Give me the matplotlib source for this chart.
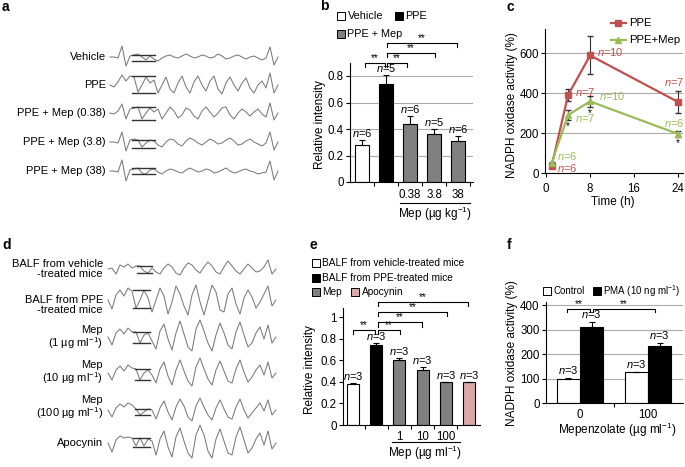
import matplotlib.pyplot as plt
from matplotlib.patches import Rectangle

plt.rcParams['font.family'] = ['Liberation Sans', 'DejaVu Sans']
plt.rcParams['mathtext.fontset'] = 'custom'
plt.rcParams['mathtext.rm'] = 'Liberation Sans'
plt.rcParams['mathtext.it'] = 'Liberation Sans:italic'
plt.rcParams['font.size'] = 8.5

W, H = 685, 467
RED = '#c0504d'
GREEN = '#9bbb59'
GRAY = '#808080'
PINK = '#dba8a8'
TRACE = '#7a7a7a'

# ---------------- data ----------------
# a: trace samples (one every 4 px, offset from baseline)
a_labels = ['Vehicle', 'PPE', 'PPE + Mep (0.38)', 'PPE + Mep (3.8)', 'PPE + Mep (38)']
a_traces = [
    [0, 0, -1, 11, -9, 1, 2, 3, 0, -3, 1, -2, -4, -1, 1, 2, 0, -1, 1, 3, 1, -1,
     0, 2, 1, -1, 0, 3, 1, -2, -1, 1, 2, 0, -2, 0, 1, -1, -3, -1, 10, -8, 0],
    [0, -2, 3, 10, 4, 9, 8, -7, 0, 8, 2, 5, -8, 0, 8, -4, -8, 2, 9, -2, -8, 3,
     9, 0, -6, 4, 9, -4, -9, 2, 8, 0, -6, 2, 7, -3, -8, 0, 4, -3, 12, -8, 0],
    [0, -1, 2, 9, -6, 4, 5, 6, -6, 0, 5, 1, 4, -6, 0, 6, 2, -5, -2, 5, 3, -3,
     -6, 2, 6, 1, -4, 0, 5, 6, -2, -6, 0, 4, 1, -3, 1, 4, -1, -4, 10, -7, 0],
    [0, 0, -1, 10, -9, 2, 3, 2, -5, -1, 2, 1, -3, -5, 0, 3, 2, -2, -4, 1, 4, 2,
     -1, -3, 0, 3, 1, -2, -1, 2, 4, 1, -3, -2, 1, 3, 0, -2, -4, -1, 10, -8, 0],
    [0, 0, -1, 11, -10, 1, 2, 3, -2, -3, 1, 2, -1, -3, 0, 2, 1, -1, -2, 1, 3, 1,
     -1, 0, 2, 1, -2, -1, 1, 3, 0, -2, -1, 1, 2, 0, -1, -3, -2, -1, 10, -9, 0],
]
a_box_levels = [(2, -4), (9, -8), (6, -7), (2, -6), (3, -3)]

# b
b_ticklabels = ['0.38', '3.8', '38']
b_means = [0.28, 0.74, 0.44, 0.36, 0.31]
b_errs = [0.04, 0.07, 0.06, 0.04, 0.04]
b_n = [6, 5, 6, 5, 6]

# c
c_time = [1, 4, 8, 24]
c_ppe = [35, 390, 588, 355]
c_ppe_err = [6, 30, 95, 55]
c_mep = [50, 290, 358, 195]
c_mep_err = [6, 25, 28, 15]
c_ppe_n = [6, 7, 10, 7]
c_mep_n = [6, 7, 10, 6]

# d
d_labels = ['BALF from vehicle\n-treated mice', 'BALF from PPE\n-treated mice',
            'Mep\n(1 \u00b5g ml$^{-1}$)', 'Mep\n(10 \u00b5g ml$^{-1}$)',
            'Mep\n(100 \u00b5g ml$^{-1}$)', 'Apocynin']
d_traces = [
    [0, 1, -5, 4, 2, 5, 1, 3, 3, -2, -4, 1, -3, -5, 1, 5, 2, -4, -6, 1, 6, 4,
     -1, -4, 2, 7, 3, -3, -5, 2, 8, 3, -2, -5, 0, 5, 1, -3, -2, 2, 9, -5, 0],
    [0, -9, 5, 10, 4, 12, 9, -8, 0, 10, 2, -12, 0, 12, 4, -14, -2, 14, 6, -6, -15, 5,
     15, -2, -15, 0, 15, 8, -10, -12, 6, 12, -4, -14, 2, 10, 3, -8, -2, 6, 14, -6, 0],
    [0, -8, 4, 8, 3, 9, 5, 5, -6, 2, 4, -4, -12, 6, 13, -2, -13, 4, 16, 3, -10, -14,
     8, 17, 6, -6, -14, 2, 14, 4, -8, -12, 5, 15, 2, -10, -6, 4, 10, -2, 12, -6, 0],
    [0, -7, 3, 7, 2, 8, 5, 4, -7, 0, 3, -2, -10, 4, 11, -3, -12, 3, 13, 2, -8, -13,
     6, 15, 4, -6, -12, 3, 12, 2, -8, -10, 4, 13, 1, -9, -4, 3, 8, -2, 11, -5, 0],
    [0, -7, 2, 6, 3, 7, 5, 1, -5, -2, 1, 0, -9, 2, 9, -2, -10, 3, 11, 4, -7, -11,
     4, 12, 3, -5, -10, 2, 10, 1, -7, -9, 3, 11, 0, -8, -3, 2, 7, -1, 10, -5, 0],
    [0, -9, 3, 7, 5, 6, 5, -3, 5, -3, 4, 2, -12, 4, 12, -4, -14, 6, 15, 2, -10, -15,
     8, 18, 8, -8, -15, 4, 14, 2, -10, -12, 6, 16, 3, -10, -5, 4, 10, -2, 12, -6, 0],
]
d_box_levels = [(3, -4), (10, -8), (5, -6), (4, -7), (1, -5), (5, -4)]

# e
e_ticklabels = ['1', '10', '100']
e_means = [0.38, 0.74, 0.605, 0.505, 0.395, 0.395]
e_errs = [0.005, 0.02, 0.012, 0.035, 0.005, 0.005]
e_n = [3, 3, 3, 3, 3, 3]

# f
f_groups = ['0', '100']
f_control = [100, 125]
f_control_err = [3, 3]
f_pma = [312, 232]
f_pma_err = [20, 15]
f_n = [3, 3]

fig = plt.figure(figsize=(W / 100, H / 100), dpi=100)


def px_axes(x0, y0, x1, y1):
    return fig.add_axes([x0 / W, 1 - y1 / H, (x1 - x0) / W, (y1 - y0) / H])


def style(ax):
    ax.spines['top'].set_visible(False)
    ax.spines['right'].set_visible(False)
    for s in ('left', 'bottom'):
        ax.spines[s].set_linewidth(0.8)
    ax.tick_params(which='both', direction='out', length=3, width=0.8,
                   labelsize=8.3, pad=1.5)
    ax.patch.set_alpha(0)


def bracket(ax, x1, x2, y, h):
    ax.plot([x1, x1, x2, x2], [y - h, y, y, y - h], color='k', lw=0.8, clip_on=False)
    ax.text((x1 + x2) / 2, y, '**', ha='center', va='bottom', fontsize=7)


def bar_set(ax, xs, means, errs, colors, ns, width, off):
    ax.bar(xs, means, width=width, color=colors, edgecolor='k', lw=0.8, zorder=2)
    ax.errorbar(xs, means, yerr=[[0] * len(errs), errs], fmt='none', ecolor='k',
                elinewidth=0.8, capsize=2, capthick=0.8, zorder=3)
    for x, m, e, n in zip(xs, means, errs, ns):
        ax.text(x, m + e + off, f'$n$={n}', ha='center', va='bottom', fontsize=8)


# ---------------- b ----------------
ax = px_axes(350, 62.75, 473, 182)
style(ax)
xs = list(range(len(b_means)))
bar_set(ax, xs, b_means, b_errs, ['white', 'black', GRAY, GRAY, GRAY], b_n, 0.55, 0.004)
ax.set_xlim(-0.5, 4.625)
ax.set_ylim(0, 0.9)
ax.set_yticks([0, 0.2, 0.4, 0.6, 0.8], ['0', '0.2', '0.4', '0.6', '0.8'])
ax.yaxis.grid(True, color='#aaaaaa', lw=0.8)
ax.set_axisbelow(True)
ax.set_xticks([2, 3, 4], b_ticklabels)
ax.set_xticks([0.5, 1.5, 2.5, 3.5, 4.5], minor=True)
ax.tick_params(axis='x', which='major', length=0, pad=5)
bracket(ax, 0.12, 0.96, 0.898, 0.03)
bracket(ax, 1.04, 1.87, 0.898, 0.03)
bracket(ax, 1.04, 3.04, 0.974, 0.03)
bracket(ax, 1.04, 3.96, 1.049, 0.03)

# ---------------- c ----------------
ax = px_axes(545, 29, 682.5, 173)
style(ax)
ax.errorbar(c_time, c_ppe, yerr=c_ppe_err, color=RED, marker='s', ms=4, lw=1.6,
            ecolor='#333333', elinewidth=0.8, capsize=2, zorder=3)
ax.errorbar(c_time, c_mep, yerr=c_mep_err, color=GREEN, marker='^', ms=4.5, lw=1.6,
            ecolor='#333333', elinewidth=0.8, capsize=2, zorder=3)
ax.set_xlim(-0.2, 24.8)
ax.set_ylim(0, 720)
ax.set_yticks([0, 200, 400, 600])
ax.set_xticks([0, 8, 16, 24])
ax.tick_params(axis='x', pad=4)
ax.yaxis.grid(True, color='#aaaaaa', lw=0.8)
ax.set_axisbelow(True)
for (x, y, ha), n in zip([(2.0, 25, 'left'), (5.3, 405, 'left'), (9.3, 605, 'left'),
                          (25.2, 455, 'right')], c_ppe_n):
    ax.text(x, y, f'$n$={n}', color=RED, ha=ha, va='center', fontsize=8, clip_on=False)
for (x, y, ha), n in zip([(2.0, 85, 'left'), (5.3, 275, 'left'), (9.6, 385, 'left'),
                          (25.2, 250, 'right')], c_mep_n):
    ax.text(x, y, f'$n$={n}', color=GREEN, ha=ha, va='center', fontsize=8, clip_on=False)
for t, m, e in zip(c_time[1:], c_mep[1:], c_mep_err[1:]):
    ax.text(t, m - e - 32, '*', ha='center', va='center', fontsize=7)

# ---------------- e ----------------
ax = px_axes(343, 308.4, 480, 425)
style(ax)
xs = list(range(len(e_means)))
bar_set(ax, xs, e_means, e_errs, ['white', 'black', GRAY, GRAY, GRAY, PINK], e_n, 0.52, 0.01)
ax.set_xlim(-0.43, 5.47)
ax.set_ylim(0, 1.08)
ax.set_yticks([0, 0.2, 0.4, 0.6, 0.8, 1.0], ['0', '0.2', '0.4', '0.6', '0.8', '1'])
ax.set_xticks([2, 3, 4], e_ticklabels)
ax.set_xticks([0.5, 1.5, 2.5, 3.5, 4.5], minor=True)
ax.tick_params(axis='x', which='major', length=0, pad=4)
bracket(ax, 0.0, 0.95, 0.88, 0.04)
bracket(ax, 1.08, 2.03, 0.88, 0.04)
bracket(ax, 1.08, 2.97, 0.95, 0.04)
bracket(ax, 1.08, 4.05, 1.05, 0.04)
bracket(ax, 1.08, 4.96, 1.14, 0.04)

# ---------------- f ----------------
ax = px_axes(546, 301.7, 683, 403)
style(ax)
g = list(range(len(f_groups)))
bar_set(ax, [x - 0.17 for x in g], f_control, f_control_err, 'white', f_n, 0.34, 6)
bar_set(ax, [x + 0.17 for x in g], f_pma, f_pma_err, 'black', f_n, 0.34, 6)
ax.set_xlim(-0.5, 1.515)
ax.set_ylim(0, 415)
ax.set_yticks([0, 100, 200, 300, 400])
ax.yaxis.grid(True, color='#aaaaaa', lw=0.8)
ax.set_axisbelow(True)
ax.set_xticks(g, f_groups)
ax.set_xticks([0.5], minor=True)
ax.tick_params(axis='x', which='major', length=0, pad=4)
bracket(ax, -0.19, 0.15, 385, 14)
bracket(ax, 0.19, 1.10, 385, 14)

# ---------------- overlay: traces, legends, labels ----------------
ov = fig.add_axes([0, 0, 1, 1])
ov.set_xlim(0, W)
ov.set_ylim(H, 0)
ov.axis('off')

for lab, (x, y) in zip('abcdef', [(2, 7), (320, 6), (507, 7), (2, 245), (310, 245), (507, 245)]):
    ov.text(x, y, lab, fontsize=10, fontweight='bold', ha='left', va='center')


def draw_trace(x0, base, vals, box, bx0, bx1):
    xs = [x0 + 4 * i for i in range(len(vals))]
    ov.plot(xs, [base - v for v in vals], color=TRACE, lw=0.75, solid_joinstyle='round')
    for lvl in box:
        ov.plot([bx0, bx1], [base - lvl, base - lvl], color='#333333', lw=1.0)


for lab, vals, box, yc in zip(a_labels, a_traces, a_box_levels, [57, 85, 113, 142, 171]):
    ov.text(106, yc, lab, ha='right', va='center', fontsize=8)
    draw_trace(110, yc, vals, box, 132, 155)

d_label_y = [269, 305, 338, 373, 408, 443]
d_base_y = [269, 300, 337, 373, 410, 443]
d_box_x = [(137, 152), (133, 150), (133, 150), (135, 150), (135, 150), (133, 150)]
for lab, vals, box, yl, yb, (bx0, bx1) in zip(d_labels, d_traces, d_box_levels,
                                               d_label_y, d_base_y, d_box_x):
    ov.text(103, yl, lab, ha='right', va='center', fontsize=8, linespacing=1.1,
            multialignment='right')
    draw_trace(108, yb, vals, box, bx0, bx1)


def legend_box(x, y, color, text, size=7.3):
    ov.add_patch(Rectangle((x, y - 4), 8, 8, facecolor=color, edgecolor='k', lw=0.7))
    ov.text(x + 10.5, y, text, ha='left', va='center', fontsize=size)


# b legend and labels
legend_box(337, 16, 'white', 'Vehicle', 7.8)
legend_box(395, 16, 'black', 'PPE', 7.8)
legend_box(337, 34, GRAY, 'PPE + Mep', 7.8)
ov.plot([400, 470], [203, 203], color='k', lw=0.8)
ov.text(435, 214, 'Mep (\u00b5g kg$^{-1}$)', ha='center', va='center', fontsize=8.5)
ov.text(320, 125, 'Relative intensity', rotation=90, ha='center', va='center', fontsize=8.5)

# c legend and labels
ov.plot([611, 626], [23, 23], color=RED, lw=1.6)
ov.plot([618.5], [23], marker='s', color=RED, ms=4)
ov.text(629, 23, 'PPE', ha='left', va='center', fontsize=8.2)
ov.plot([611, 626], [40, 40], color=GREEN, lw=1.6)
ov.plot([618.5], [40], marker='^', color=GREEN, ms=4.5)
ov.text(629, 40, 'PPE+Mep', ha='left', va='center', fontsize=8.2)
ov.text(512, 105, 'NADPH oxidase activity (%)', rotation=90, ha='center', va='center',
        fontsize=8.5)
ov.text(613, 202, 'Time (h)', ha='center', va='center', fontsize=8.5)

# e legend and labels
legend_box(312, 263, 'white', 'BALF from vehicle-treated mice')
legend_box(312, 278, 'black', 'BALF from PPE-treated mice')
legend_box(312, 292, GRAY, 'Mep')
legend_box(351, 292, PINK, 'Apocynin')
ov.plot([392, 460], [442, 442], color='k', lw=0.8)
ov.text(425, 453, 'Mep (\u00b5g ml$^{-1}$)', ha='center', va='center', fontsize=8.5)
ov.text(310, 370, 'Relative intensity', rotation=90, ha='center', va='center', fontsize=8.5)

# f legend and labels
legend_box(543, 291, 'white', 'Control', 7.0)
legend_box(593, 291, 'black', 'PMA (10 ng ml$^{-1}$)', 7.0)
ov.text(512, 353, 'NADPH oxidase activity (%)', rotation=90, ha='center', va='center',
        fontsize=8.5)
ov.text(617, 430, 'Mepenzolate (\u00b5g ml$^{-1}$)', ha='center', va='center', fontsize=8.5)

fig.savefig('out.png', dpi=100)
